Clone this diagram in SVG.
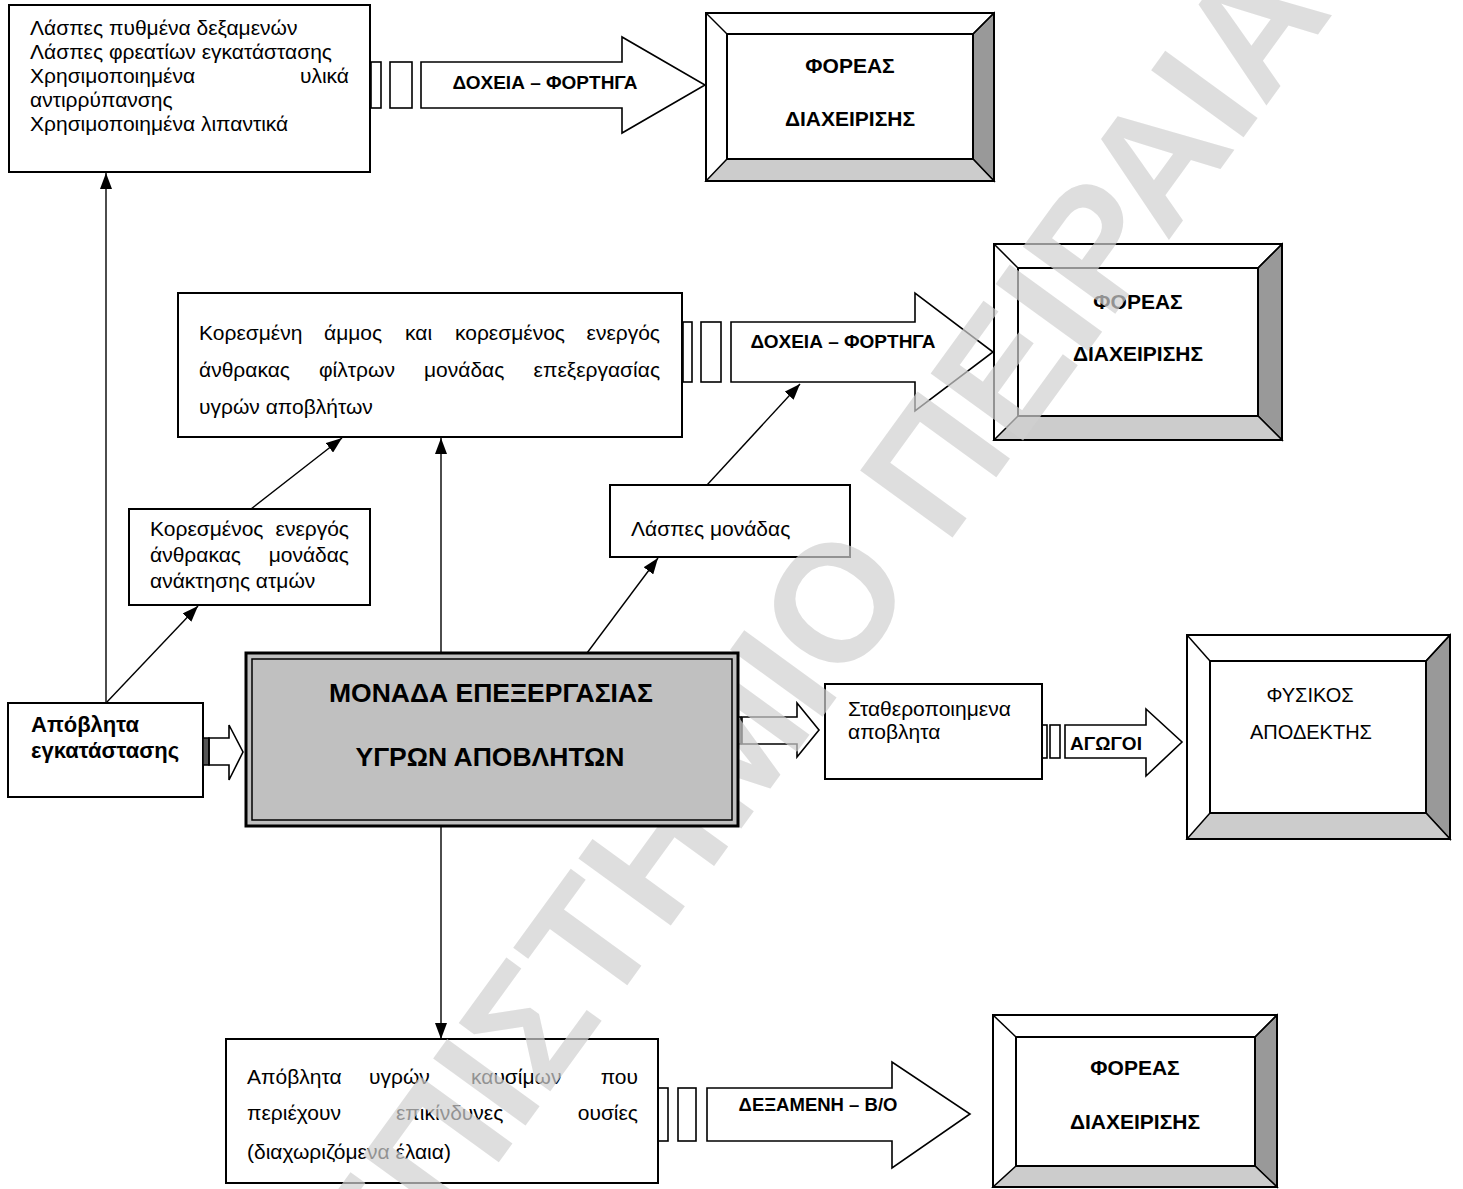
<svg xmlns="http://www.w3.org/2000/svg" width="1463" height="1189" viewBox="0 0 1463 1189">
<defs>
<marker id="ah" viewBox="0 0 16 12" refX="16" refY="6" markerWidth="16" markerHeight="12" markerUnits="userSpaceOnUse" orient="auto"><path d="M0,0 L16,6 L0,12 z" fill="#000"/></marker>
<style>
.box{fill:none;stroke:#000;stroke-width:2}
.t{font-family:"Liberation Sans",Arial,sans-serif;font-size:21px;fill:#000}
.tb{font-family:"Liberation Sans",Arial,sans-serif;font-size:22px;font-weight:bold;fill:#000}
.lbl{font-family:"Liberation Sans",Arial,sans-serif;font-size:19px;font-weight:bold;fill:#000;text-anchor:middle}
.hd{font-family:"Liberation Sans",Arial,sans-serif;font-size:21px;font-weight:bold;fill:#000;text-anchor:middle}
.ctr{font-family:"Liberation Sans",Arial,sans-serif;font-size:26.5px;font-weight:bold;fill:#000;text-anchor:middle}
.rcv{font-family:"Liberation Sans",Arial,sans-serif;font-size:20px;fill:#000;text-anchor:middle}
.arr{fill:none;stroke:#000;stroke-width:1.6}
.sq{fill:none;stroke:#000;stroke-width:1.6}
.conn{fill:none;stroke:#000;stroke-width:1.4;marker-end:url(#ah)}
.dk{fill:#999;stroke:#000;stroke-width:1.5}
.lt{fill:#ccc;stroke:#000;stroke-width:1.5}
.ln{stroke:#000;stroke-width:1.5}
.wm{font-family:"Liberation Sans",Arial,sans-serif;font-size:166px;font-weight:bold;fill:#d0d0d0;fill-opacity:0.7}
</style>
</defs>
<rect width="1463" height="1189" fill="#fff"/>

<g id="box-sludge">
<rect class="box" x="9" y="5" width="361" height="167"/>
<text class="t" x="30" y="35">Λάσπες πυθμένα δεξαμενών</text>
<text class="t" x="30" y="59">Λάσπες φρεατίων εγκατάστασης</text>
<text class="t"><tspan x="30" y="83">Χρησιμοποιημένα</tspan><tspan x="349" y="83" text-anchor="end">υλικά</tspan></text>
<text class="t" x="30" y="107">αντιρρύπανσης</text>
<text class="t" x="30" y="131">Χρησιμοποιημένα λιπαντικά</text>
</g>

<g id="arrow-top">
<rect class="sq" x="371" y="62" width="10" height="46"/>
<rect class="sq" x="390" y="62" width="22" height="46"/>
<polygon class="arr" points="421,62 622,62 622,37 705,85 622,133 622,108 421,108"/>
<text class="lbl" x="545" y="89">ΔΟΧΕΙΑ – ΦΟΡΤΗΓΑ</text>
</g>

<g id="agency-1">
<polygon class="dk" points="973,34 994,13 994,181 973,159"/>
<polygon class="lt" points="727,159 973,159 994,181 706,181"/>
<rect class="box" x="706" y="13" width="288" height="168"/>
<rect class="box" x="727" y="34" width="246" height="125"/>
<line class="ln" x1="706" y1="13" x2="727" y2="34"/>
<line class="ln" x1="994" y1="13" x2="973" y2="34"/>
<text class="hd" x="850" y="73">ΦΟΡΕΑΣ</text>
<text class="hd" x="850" y="126">ΔΙΑΧΕΙΡΙΣΗΣ</text>
</g>

<g id="box-sand">
<rect class="box" x="178" y="293" width="504" height="144"/>
<text class="t"><tspan x="199" y="340">Κορεσμένη</tspan><tspan x="324" y="340">άμμος</tspan><tspan x="405" y="340">και</tspan><tspan x="455" y="340">κορεσμένος</tspan><tspan x="660" y="340" text-anchor="end">ενεργός</tspan></text>
<text class="t"><tspan x="199" y="377">άνθρακας</tspan><tspan x="319" y="377">φίλτρων</tspan><tspan x="424" y="377">μονάδας</tspan><tspan x="660" y="377" text-anchor="end">επεξεργασίας</tspan></text>
<text class="t" x="199" y="414">υγρών αποβλήτων</text>
</g>

<g id="arrow-mid">
<rect class="sq" x="683" y="322" width="9" height="60"/>
<rect class="sq" x="701" y="322" width="20" height="60"/>
<polygon class="arr" points="731,322 915,322 915,293 993,352 915,411 915,382 731,382"/>
<text class="lbl" x="843" y="348">ΔΟΧΕΙΑ – ΦΟΡΤΗΓΑ</text>
</g>

<g id="agency-2">
<polygon class="dk" points="1258,268 1282,244 1282,440 1258,416"/>
<polygon class="lt" points="1018,416 1258,416 1282,440 994,440"/>
<rect class="box" x="994" y="244" width="288" height="196"/>
<rect class="box" x="1018" y="268" width="240" height="148"/>
<line class="ln" x1="994" y1="244" x2="1018" y2="268"/>
<line class="ln" x1="1282" y1="244" x2="1258" y2="268"/>
<text class="hd" x="1138" y="309">ΦΟΡΕΑΣ</text>
<text class="hd" x="1138" y="361">ΔΙΑΧΕΙΡΙΣΗΣ</text>
</g>

<g id="box-carbon">
<rect class="box" x="129" y="509" width="241" height="96"/>
<text class="t"><tspan x="150" y="536">Κορεσμένος</tspan><tspan x="349" y="536" text-anchor="end">ενεργός</tspan></text>
<text class="t"><tspan x="150" y="562">άνθρακας</tspan><tspan x="349" y="562" text-anchor="end">μονάδας</tspan></text>
<text class="t" x="150" y="588">ανάκτησης ατμών</text>
</g>

<g id="box-unit-sludge">
<rect class="box" x="610" y="485" width="240" height="72"/>
<text class="t" x="631" y="536">Λάσπες μονάδας</text>
</g>

<g id="box-plant-waste">
<rect class="box" x="8" y="703" width="195" height="94"/>
<text class="tb" x="31" y="732">Απόβλητα</text>
<text class="tb" x="31" y="758">εγκατάστασης</text>
</g>

<g id="arrow-in">
<rect x="203" y="738" width="6" height="27" fill="#555" stroke="#000" stroke-width="1.5"/>
<polygon class="arr" points="209,738 229,738 229,725 243,752 229,780 229,765 209,765"/>
</g>

<g id="arrow-out">
<rect class="sq" x="729" y="717" width="4" height="27" stroke-width="1.2"/>
<rect class="sq" x="736" y="717" width="5" height="27" stroke-width="1.2"/>
<polygon class="arr" points="742,717 797,717 797,703 819,730 797,757 797,744 742,744"/>
</g>

<g id="box-stabilized">
<rect class="box" x="825" y="684" width="217" height="95"/>
<text class="t" x="848" y="716">Σταθεροποιημενα</text>
<text class="t" x="848" y="739">αποβλητα</text>
</g>

<g id="arrow-pipes">
<rect class="sq" x="1042" y="725" width="5" height="33"/>
<rect class="sq" x="1050" y="725" width="10" height="33"/>
<polygon class="arr" points="1065,725 1146,725 1146,709 1182,742 1146,776 1146,758 1065,758"/>
<text class="lbl" x="1106" y="750">ΑΓΩΓΟΙ</text>
</g>

<g id="receiver">
<polygon class="dk" points="1426,661 1450,635 1450,839 1426,813"/>
<polygon class="lt" points="1210,813 1426,813 1450,839 1187,839"/>
<rect class="box" x="1187" y="635" width="263" height="204"/>
<rect class="box" x="1210" y="661" width="216" height="152"/>
<line class="ln" x1="1187" y1="635" x2="1210" y2="661"/>
<line class="ln" x1="1450" y1="635" x2="1426" y2="661"/>
<text class="rcv" x="1310" y="702">ΦΥΣΙΚΟΣ</text>
<text class="rcv" x="1311" y="739">ΑΠΟΔΕΚΤΗΣ</text>
</g>

<g id="box-fuel">
<rect class="box" x="226" y="1039" width="432" height="144"/>
<text class="t"><tspan x="247" y="1084">Απόβλητα</tspan><tspan x="369" y="1084">υγρών</tspan><tspan x="471" y="1084">καυσίμων</tspan><tspan x="638" y="1084" text-anchor="end">που</tspan></text>
<text class="t"><tspan x="247" y="1120">περιέχουν</tspan><tspan x="396" y="1120">επικίνδυνες</tspan><tspan x="638" y="1120" text-anchor="end">ουσίες</tspan></text>
<text class="t" x="247" y="1159">(διαχωριζόμενα έλαια)</text>
</g>

<g id="arrow-tank">
<rect class="sq" x="658" y="1088" width="10" height="53"/>
<rect class="sq" x="678" y="1088" width="18" height="53"/>
<polygon class="arr" points="707,1088 892,1088 892,1062 970,1114 892,1168 892,1141 707,1141"/>
<text class="lbl" x="818" y="1111" style="font-size:18.5px">ΔΕΞΑΜΕΝΗ – Β/Ο</text>
</g>

<g id="agency-3">
<polygon class="dk" points="1255,1037 1277,1015 1277,1187 1255,1166"/>
<polygon class="lt" points="1016,1166 1255,1166 1277,1187 993,1187"/>
<rect class="box" x="993" y="1015" width="284" height="172"/>
<rect class="box" x="1016" y="1037" width="239" height="129"/>
<line class="ln" x1="993" y1="1015" x2="1016" y2="1037"/>
<line class="ln" x1="1277" y1="1015" x2="1255" y2="1037"/>
<text class="hd" x="1135" y="1075">ΦΟΡΕΑΣ</text>
<text class="hd" x="1135" y="1129">ΔΙΑΧΕΙΡΙΣΗΣ</text>
</g>

<g id="connectors">
<line class="conn" x1="106" y1="703" x2="106" y2="173"/>
<line class="conn" x1="106" y1="703" x2="198" y2="606"/>
<line class="conn" x1="251" y1="509" x2="342" y2="438"/>
<line class="conn" x1="441" y1="653" x2="441" y2="438"/>
<line class="conn" x1="587" y1="653" x2="658" y2="558"/>
<line class="conn" x1="707" y1="485" x2="800" y2="384"/>
<line class="conn" x1="441" y1="826" x2="441" y2="1039"/>
</g>

<text class="wm" transform="translate(172,1612) rotate(-54)">ΠΑΝΕΠΙΣΤΗΜΙΟ ΠΕΙΡΑΙΑ</text>

<g id="treatment-unit">
<rect x="246" y="653" width="492" height="173" fill="#c0c0c0" stroke="#000" stroke-width="3"/>
<rect x="252" y="659" width="480" height="161" fill="none" stroke="#000" stroke-width="1.5"/>
<text class="ctr" x="491" y="702">ΜΟΝΑΔΑ ΕΠΕΞΕΡΓΑΣΙΑΣ</text>
<text class="ctr" x="490" y="766">ΥΓΡΩΝ ΑΠΟΒΛΗΤΩΝ</text>
</g>
</svg>
